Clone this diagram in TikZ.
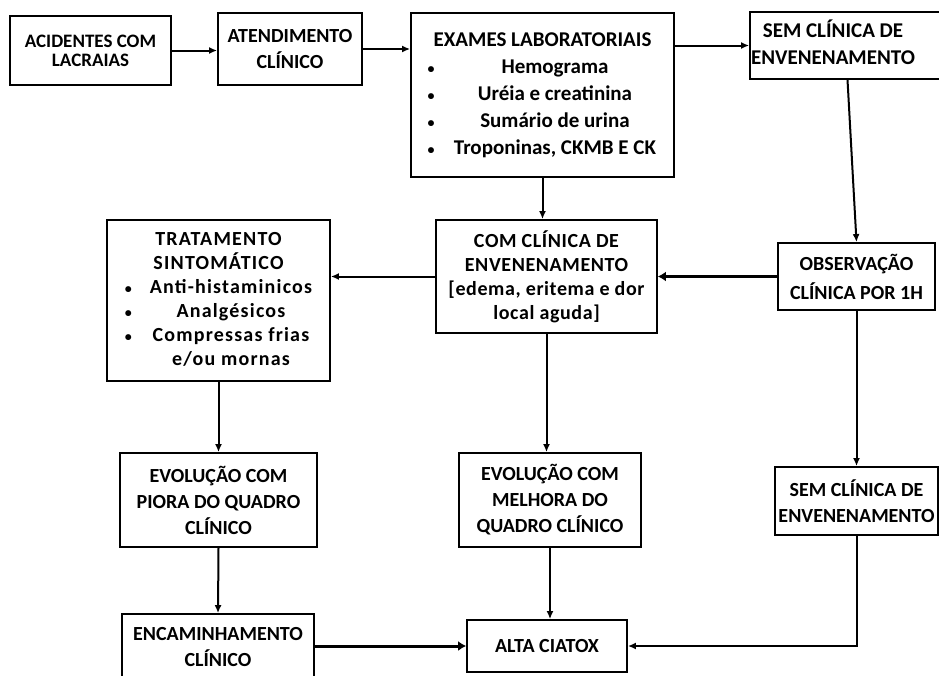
\documentclass[tikz,border=0pt]{standalone}
\usepackage{fontspec}
\setmainfont{Carlito}
\usetikzlibrary{calc, positioning, arrows.meta}
\newcommand{\marca}{{\fontsize{14}{14}\selectfont\textbullet}}

\begin{document}
\begin{tikzpicture}[x=1pt, y=-1pt,
  caixa/.style={draw, line width=1.8pt, align=center, inner sep=0pt,
    font=\bfseries\fontsize{20}{#1}\selectfont},
  caixa/.default=26,
  seta/.style={-{Latex[length=8pt, width=7pt]}, line width=2pt},
  setagrossa/.style={-{Latex[length=8pt, width=10pt]}, line width=3.5pt}]
  \useasboundingbox (0,0) rectangle (939,675);

  % linha de cima
  \node[caixa, line width=2.8pt, minimum width=161pt, minimum height=69pt,
    font=\bfseries\fontsize{19}{19}\selectfont] (acid) at (90.5,50.5) {ACIDENTES COM\\LACRAIAS};
  \node[caixa, minimum width=144pt, minimum height=72pt] (aten) at (290,49) {ATENDIMENTO\\CLÍNICO};
  \node[caixa, minimum width=263pt, minimum height=164pt,
    font=\bfseries\fontsize{21}{27}\selectfont] (exam) at (542.5,95)
    {\begin{tabular}{@{}c@{\hspace{18pt}}c@{}}
      \multicolumn{2}{c}{EXAMES LABORATORIAIS}\\
      \marca & Hemograma\\
      \marca & Uréia e creatinina\\
      \marca & Sumário de urina\\
      \marca & Troponinas, CKMB E CK
    \end{tabular}};
  \node[caixa, minimum width=195pt, minimum height=67pt,
    font=\bfseries\fontsize{21}{27}\selectfont] (sem1) at (847.5,45.5)
    {\begin{tabular}{@{}c@{\hspace{29pt}}}SEM CLÍNICA DE\\ENVENENAMENTO\end{tabular}};

  % linha do meio
  \node[caixa, minimum width=223pt, minimum height=161pt,
    font=\bfseries\fontsize{20}{24}\selectfont\addfontfeatures{LetterSpace=6}] (trat) at (218.5,300.5)
    {\begin{tabular}{@{}c@{\hspace{18pt}}c@{}}
      \multicolumn{2}{c}{TRATAMENTO}\\
      \multicolumn{2}{c}{SINTOMÁTICO}\\
      \marca & Anti-histaminicos\\
      \marca & Analgésicos\\
      \marca & Compressas frias\\
             & e/ou mornas
    \end{tabular}};
  \node[caixa, minimum width=221pt, minimum height=113pt,
    font=\bfseries\fontsize{20}{24}\selectfont\addfontfeatures{LetterSpace=3}] (com) at (546.5,276.5)
    {COM CLÍNICA DE\\ENVENENAMENTO\\{[}edema, eritema e dor\\local aguda{]}};
  \node[caixa=29, minimum width=157pt, minimum height=67pt] (obs) at (856.5,276.5) {OBSERVAÇÃO\\CLÍNICA POR 1H};

  % linha de baixo
  \node[caixa, minimum width=197pt, minimum height=94pt] (piora) at (218.5,500) {EVOLUÇÃO COM\\PIORA DO QUADRO\\CLÍNICO};
  \node[caixa, minimum width=182pt, minimum height=94pt] (melh) at (550,500) {EVOLUÇÃO COM\\MELHORA DO\\QUADRO CLÍNICO};
  \node[caixa, minimum width=163pt, minimum height=68pt] (sem2) at (856.5,501) {SEM CLÍNICA DE\\ENVENENAMENTO};
  \node[caixa, minimum width=192pt, minimum height=66pt] (enc) at (218,647) {ENCAMINHAMENTO\\CLÍNICO};
  \node[caixa, minimum width=160pt, minimum height=52pt] (alta) at (547,646) {ALTA CIATOX};

  \draw[seta] (acid.east) -- (acid.east -| aten.west);
  \draw[seta] (aten.east) -- (aten.east -| exam.west);
  \draw[seta] (sem1.west -| exam.east) -- (sem1.west);
  \draw[seta] (exam.south) -- (exam.south |- com.north);
  \draw[seta] (sem1.south) -- (obs.north);
  \draw[setagrossa] (obs.west) -- (obs.west -| com.east);
  \draw[seta] (com.west) -- (com.west -| trat.east);
  \draw[seta] (com.south) -- (com.south |- melh.north);
  \draw[seta] (obs.south) -- (sem2.north);
  \draw[seta] (trat.south) -- (piora.north);
  \draw[seta] (piora.south) -- (enc.north);
  \draw[seta] (melh.south) -- (melh.south |- alta.north);
  \draw[setagrossa, line width=3pt] (enc.east |- alta.west) -- (alta.west);
  \draw[seta] (sem2.south) |- (alta.east);
\end{tikzpicture}
\end{document}
